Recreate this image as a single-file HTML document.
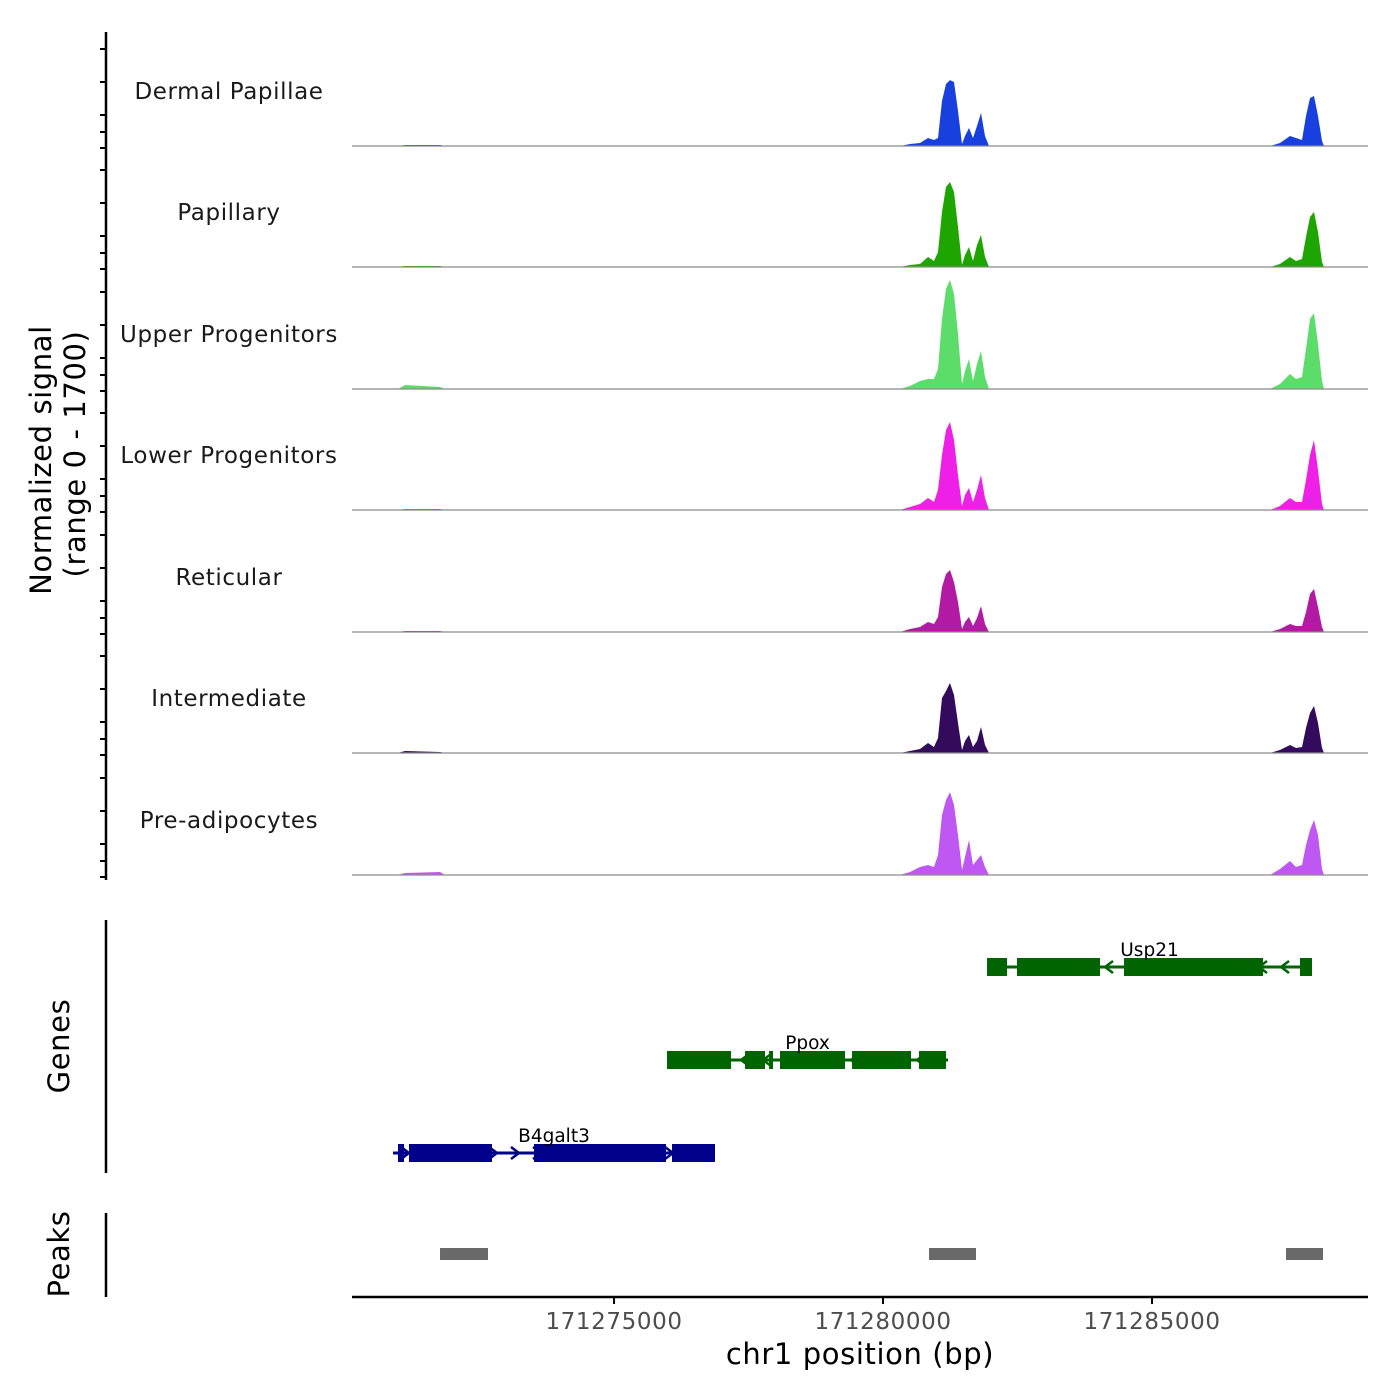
<!DOCTYPE html>
<html><head><meta charset="utf-8"><style>
body{margin:0;background:#fff;}
svg text{font-family:"DejaVu Sans","Liberation Sans",sans-serif;}
</style></head><body>
<svg id="chart" width="1400" height="1400" viewBox="0 0 1400 1400" xmlns="http://www.w3.org/2000/svg" style="position:absolute;left:0;top:0">
<rect width="1400" height="1400" fill="#fff"/>
<g id="tracks"></g>
<g id="genes"></g>
<g id="peaks"></g>
<g id="axes"></g>
<text x="860" y="1364" text-anchor="middle" font-size="29" fill="#000" letter-spacing="0.6">chr1 position (bp)</text>
<text transform="translate(51,460) rotate(-90)" text-anchor="middle" font-size="29" fill="#000" letter-spacing="0.6">Normalized signal</text>
<text transform="translate(85,454) rotate(-90)" text-anchor="middle" font-size="29" fill="#000" letter-spacing="0.6">(range 0 - 1700)</text>
<text transform="translate(69,1046) rotate(-90)" text-anchor="middle" font-size="29" fill="#000" letter-spacing="0.6">Genes</text>
<text transform="translate(69,1254) rotate(-90)" text-anchor="middle" font-size="29" fill="#000" letter-spacing="0.6">Peaks</text>
</svg>
<script>
const xDomain = [171270130, 171289014];
const yMax = 1700;
const trackNames = ["Dermal Papillae","Papillary","Upper Progenitors","Lower Progenitors","Reticular","Intermediate","Pre-adipocytes"];
const trackColors = ["#1740df","#1fa500","#5cdc68","#ee1fe6","#b21aa3","#340b5c","#bf58f3"];
const positions = [171270130,171270985,171271115,171271766,171271859,171280316,171280502,171280687,171280836,171280948,171281022,171281096,171281171,171281245,171281319,171281394,171281468,171281524,171281598,171281673,171281747,171281821,171281896,171281970,171282044,171287193,171287379,171287565,171287676,171287788,171287862,171287936,171288011,171288085,171288159,171288196,171289014];
const sigDermal = [0,0,14,14,0,0,29,43,115,86,115,648,893,950,922,504,29,144,259,115,288,475,144,0,0,0,43,144,115,86,432,691,720,432,72,0,0];
const sigPapillary = [0,0,14,14,0,0,29,43,144,86,216,792,1152,1224,1080,576,29,173,288,86,317,461,144,0,0,0,43,144,86,115,432,720,792,504,72,0,0];
const sigUpper = [0,0,58,29,0,0,43,115,144,144,288,1008,1440,1570,1368,792,72,259,432,115,360,547,173,0,0,0,72,216,144,173,576,1008,1094,648,115,0,0];
const sigLower = [0,0,14,14,0,0,43,86,173,115,288,792,1152,1267,1008,504,58,216,317,115,288,504,173,0,0,0,58,173,115,115,432,792,1008,576,86,0,0];
const sigReticular = [0,0,14,14,0,0,43,72,144,115,216,648,835,893,720,432,43,144,216,86,202,374,115,0,0,0,43,115,86,86,288,547,619,360,72,0,0];
const sigIntermediate = [0,0,29,14,0,0,29,58,144,86,216,792,893,1008,835,432,43,173,259,86,173,374,115,0,0,0,43,115,72,86,360,576,677,432,72,0,0];
const sigPreadipo = [0,0,29,43,0,0,43,115,144,115,288,864,1080,1195,1008,576,72,259,504,144,216,288,115,0,0,0,86,202,115,144,432,648,792,576,86,0,0];
const signals = [sigDermal,sigPapillary,sigUpper,sigLower,sigReticular,sigIntermediate,sigPreadipo];
const baselines = [146,267,389,510,632,753,875];

const geneNames = ["Usp21","Ppox","B4galt3"];
const geneStarts = [171281933,171275985,171270892];
const geneEnds = [171287973,171281208,171276877];
const geneStrands = ["-","-","+"];
const geneColors = ["#006400","#006400","#00008b"];
const geneRows = [967,1060,1153];
const exonStarts = [[171281933,171282490,171284479,171287750],[171275985,171277435,171277881,171278085,171279424,171280669],[171270985,171271189,171273513,171276078]];
const exonEnds = [[171282305,171284033,171287063,171287973],[171277174,171277806,171277955,171279293,171280520,171281171],[171271097,171272732,171275966,171276877]];

const peakStarts = [171271766,171280855,171287490];
const peakEnds = [171272658,171281728,171288178];

const xTicks = [171275000,171280000,171285000];
const xTickLabels = ["171275000","171280000","171285000"];

const X0=352,X1=1368,TRACK_H=118;
const xs = v => X0 + (v-xDomain[0])/(xDomain[1]-xDomain[0])*(X1-X0);
const ys = (v,b) => b - v/yMax*TRACK_H;
const NS="http://www.w3.org/2000/svg";
function mk(tag,attrs,parent){const e=document.createElementNS(NS,tag);for(const k in attrs)e.setAttribute(k,attrs[k]);parent.appendChild(e);return e;}

const tracks=document.getElementById('tracks');
signals.forEach((sig,i)=>{
  const b=baselines[i];
  let d=`M${xs(positions[0])},${b}`;
  sig.forEach((v,j)=>{d+=` L${xs(positions[j]).toFixed(1)},${ys(v,b).toFixed(1)}`;});
  d+=` L${xs(positions[positions.length-1])},${b} Z`;
  const p=mk('path',{d:d,fill:trackColors[i]},tracks);
  
  
  const l=mk('line',{x1:X0,x2:X1,y1:b,y2:b,stroke:'#8a8a8a','stroke-width':1.2},tracks);
  
  
  const t=mk('text',{x:229,y:b-47,'text-anchor':'middle','font-size':23,fill:'#1a1a1a','letter-spacing':'0.6'},tracks);
  t.textContent=trackNames[i];
  
  
});

const genes=document.getElementById('genes');
geneNames.forEach((g,i)=>{
  const y=geneRows[i],c=geneColors[i];
  const ln=mk('line',{x1:xs(geneStarts[i]),x2:xs(geneEnds[i]),y1:y,y2:y,stroke:c,'stroke-width':3},genes);
  
  
  const a0=xs(geneStarts[i]),a1=xs(geneEnds[i]);
  for(let x=a0+12;x<a1-6;x+=22){
    const dir=geneStrands[i]==='+'?1:-1;
    const ar=mk('path',{d:`M${x-4*dir},${y-6} L${x+4*dir},${y} L${x-4*dir},${y+6}`,fill:'none',stroke:c,'stroke-width':2.5},genes);
    
    
  }
  exonStarts[i].forEach((s,j)=>{
    const r=mk('rect',{x:xs(s),y:y-9,width:xs(exonEnds[i][j])-xs(s),height:18,fill:c},genes);
    
    
  });
  const t=mk('text',{x:(a0+a1)/2,y:y-11,'text-anchor':'middle','font-size':18.5,fill:'#000'},genes);
  t.textContent=g;
  
  
});

const peaks=document.getElementById('peaks');
peakStarts.forEach((s,i)=>{
  const r=mk('rect',{x:xs(s),y:1248,width:xs(peakEnds[i])-xs(s),height:12,fill:'#696969'},peaks);
  
  
});

const axes=document.getElementById('axes');
[[32,880],[920,1173],[1213,1297]].forEach(([a,b])=>{
  const l=mk('line',{x1:106,x2:106,y1:a,y2:b,stroke:'#000','stroke-width':2.5},axes);
  
  
});
baselines.forEach(b=>{
  [0,16,33,66,99].forEach(o=>{
    const t=mk('line',{x1:100,x2:106,y1:b-o+2,y2:b-o+2,stroke:'#000','stroke-width':2},axes);
    
    
  });
});
const xl=mk('line',{x1:X0,x2:X1,y1:1297,y2:1297,stroke:'#000','stroke-width':2.5},axes);


xTicks.forEach((v,i)=>{
  const t=mk('line',{x1:xs(v),x2:xs(v),y1:1297,y2:1304,stroke:'#000','stroke-width':2},axes);
  
  
  const tx=mk('text',{x:xs(v),y:1329,'text-anchor':'middle','font-size':23,fill:'#4d4d4d','letter-spacing':'0.6'},axes);
  tx.textContent=xTickLabels[i];
  
  
});
</script>
</body></html>
